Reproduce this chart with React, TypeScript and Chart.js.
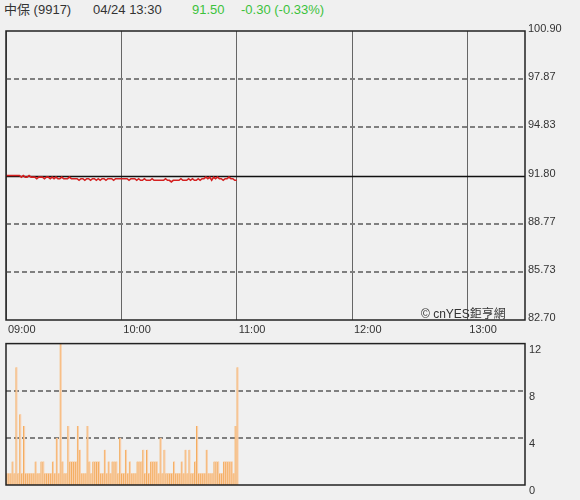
import React, { useEffect, useRef } from "react";
import { Chart, registerables } from "chart.js";

Chart.register(...registerables);

const stockTitle = "中保 (9917)";
const timeText = "04/24 13:30";
const lastPriceText = "91.50";
const changeText = "-0.30 (-0.33%)";
const watermark = "© cnYES鉅亨網";

const priceTicks = [82.7, 85.73, 88.77, 91.8, 94.83, 97.87, 100.9];
const prevClose = 91.8;
const timeTicks = [0, 60, 120, 180, 240];
const timeMax = 270;
const volumeTicks = [0, 4, 8, 12];

const prices = [
  91.8, 91.8, 91.8, 91.8, 91.8, 91.8, 91.8, 91.8, 91.7, 91.8,
  91.7, 91.7, 91.8, 91.7, 91.7, 91.7, 91.6, 91.7, 91.7, 91.7,
  91.6, 91.7, 91.7, 91.6, 91.7, 91.6, 91.7, 91.6, 91.6, 91.7,
  91.6, 91.6, 91.6, 91.7, 91.6, 91.6, 91.6, 91.6, 91.5, 91.6,
  91.6, 91.5, 91.6, 91.6, 91.5, 91.6, 91.6, 91.5, 91.6, 91.5,
  91.6, 91.6, 91.5, 91.6, 91.6, 91.6, 91.5, 91.6, 91.6, 91.6,
  91.6, 91.6, 91.6, 91.6, 91.5, 91.6, 91.6, 91.6, 91.5, 91.6,
  91.5, 91.5, 91.6, 91.5, 91.5, 91.5, 91.6, 91.5, 91.5, 91.5,
  91.5, 91.5, 91.5, 91.6, 91.5, 91.5, 91.4, 91.5, 91.5, 91.5,
  91.5, 91.6, 91.5, 91.5, 91.5, 91.6, 91.5, 91.6, 91.5, 91.5,
  91.6, 91.5, 91.6, 91.6, 91.7, 91.6, 91.7, 91.5, 91.7, 91.6,
  91.7, 91.6, 91.6, 91.5, 91.6, 91.6, 91.7, 91.6, 91.6, 91.5,
  91.5,
];

const volumes = [
  1, 1, 1, 2, 1, 10, 1, 6, 1, 5,
  1, 1, 1, 1, 1, 2, 1, 1, 2, 2,
  1, 1, 1, 1, 2, 1, 4, 1, 12, 2,
  1, 1, 5, 2, 2, 2, 2, 5, 3, 1,
  1, 1, 5, 2, 1, 2, 2, 2, 2, 1,
  1, 3, 1, 2, 1, 2, 2, 2, 1, 4,
  1, 1, 3, 1, 2, 1, 1, 1, 2, 2,
  2, 3, 1, 3, 1, 2, 2, 2, 2, 1,
  4, 1, 3, 1, 1, 1, 1, 2, 1, 1,
  1, 2, 1, 3, 1, 3, 1, 1, 2, 5,
  1, 1, 1, 1, 3, 1, 1, 1, 2, 2,
  2, 1, 1, 2, 2, 2, 2, 2, 1, 5,
  10,
];

const FONT = "'Liberation Sans', Arial, 'Noto Sans CJK TC', sans-serif";

const fmtTime = (m: number) => {
  const h = 9 + Math.floor(m / 60);
  const mm = m % 60;
  return String(h).padStart(2, "0") + ":" + String(mm).padStart(2, "0");
};

function gridFramePlugin(solidValue: number | null, dashedValues: number[]) {
  return {
    id: "gridFrame",
    beforeDatasetsDraw(chart: any) {
      const { ctx, chartArea, scales } = chart;
      const y = scales.y;
      ctx.save();
      dashedValues.forEach((v) => {
        const py = Math.round(y.getPixelForValue(v));
        ctx.beginPath();
        ctx.setLineDash([5, 3]);
        ctx.strokeStyle = "#7f7f7f";
        ctx.lineWidth = 2;
        ctx.moveTo(chartArea.left, py);
        ctx.lineTo(chartArea.right, py);
        ctx.stroke();
      });
      if (solidValue !== null) {
        const py = Math.round(y.getPixelForValue(solidValue)) + 0.5;
        ctx.beginPath();
        ctx.setLineDash([]);
        ctx.strokeStyle = "#111";
        ctx.lineWidth = 1.5;
        ctx.moveTo(chartArea.left, py);
        ctx.lineTo(chartArea.right, py);
        ctx.stroke();
      }
      ctx.restore();
    },
    afterDatasetsDraw(chart: any) {
      const { ctx, chartArea } = chart;
      ctx.save();
      ctx.setLineDash([]);
      ctx.strokeStyle = "#222";
      ctx.lineWidth = 1.5;
      ctx.strokeRect(
        chartArea.left,
        chartArea.top,
        chartArea.right - chartArea.left,
        chartArea.bottom - chartArea.top
      );
      ctx.restore();
    },
  };
}

export default function App() {
  const priceRef = useRef<HTMLCanvasElement | null>(null);
  const volRef = useRef<HTMLCanvasElement | null>(null);

  useEffect(() => {
    const priceData = prices.map((p, i) => ({ x: i, y: p }));
    const volData = volumes.map((v, i) => ({ x: i, y: v }));

    const priceChart = new Chart(priceRef.current as HTMLCanvasElement, {
      type: "line",
      data: {
        datasets: [
          {
            data: priceData,
            borderColor: "#d42020",
            borderWidth: 1.6,
            pointRadius: 0,
            tension: 0,
          },
        ],
      },
      options: {
        animation: false,
        responsive: false,
        layout: { padding: { left: 6, top: 11, right: 0, bottom: 0 } },
        plugins: { legend: { display: false }, tooltip: { enabled: false } },
        scales: {
          x: {
            type: "linear",
            min: 0,
            max: timeMax,
            afterBuildTicks: (s: any) => {
              s.ticks = timeTicks.map((v) => ({ value: v }));
            },
            afterFit: (s: any) => {
              s.height = 25;
            },
            ticks: {
              callback: (v: any) => fmtTime(Number(v)),
              align: "start",
              labelOffset: 2,
              padding: 3,
              autoSkip: false,
              maxRotation: 0,
              color: "#333",
              font: { family: FONT, size: 11 },
            },
            grid: { color: "#666", lineWidth: 1, drawTicks: false },
            border: { display: false },
          },
          y: {
            type: "linear",
            position: "right",
            min: priceTicks[0],
            max: priceTicks[priceTicks.length - 1],
            afterBuildTicks: (s: any) => {
              s.ticks = priceTicks.map((v) => ({ value: v }));
            },
            afterFit: (s: any) => {
              s.width = 55;
            },
            ticks: {
              callback: (v: any) => Number(v).toFixed(2),
              padding: 3,
              labelOffset: -2,
              color: "#333",
              font: { family: FONT, size: 11 },
            },
            grid: { display: false, drawTicks: false },
            border: { display: false },
          },
        },
      },
      plugins: [
        gridFramePlugin(
          prevClose,
          priceTicks.filter((v, i) => v !== prevClose && i > 0 && i < priceTicks.length - 1)
        ),
      ],
    } as any);

    const volChart = new Chart(volRef.current as HTMLCanvasElement, {
      type: "bar",
      data: {
        datasets: [
          {
            data: volData,
            backgroundColor: "#f9cfab",
            borderColor: "#f3ac5c",
            borderWidth: { left: 1, right: 0, top: 0, bottom: 0 },
            borderSkipped: false,
            categoryPercentage: 1,
            barPercentage: 1,
          },
        ],
      },
      options: {
        animation: false,
        responsive: false,
        layout: { padding: { left: 6, top: 10, right: 0, bottom: 15 } },
        plugins: { legend: { display: false }, tooltip: { enabled: false } },
        scales: {
          x: {
            type: "linear",
            min: -0.5,
            max: timeMax - 0.5,
            display: false,
            offset: false,
          },
          y: {
            type: "linear",
            position: "right",
            min: 0,
            max: 12,
            afterBuildTicks: (s: any) => {
              s.ticks = volumeTicks.map((v) => ({ value: v }));
            },
            afterFit: (s: any) => {
              s.width = 55;
            },
            ticks: {
              padding: 4,
              labelOffset: 6,
              color: "#333",
              font: { family: FONT, size: 11 },
            },
            grid: { display: false, drawTicks: false },
            border: { display: false },
          },
        },
      },
      plugins: [gridFramePlugin(null, [4, 8])],
    } as any);

    return () => {
      priceChart.destroy();
      volChart.destroy();
    };
  }, []);

  const txt: React.CSSProperties = {
    position: "absolute",
    top: 1,
    fontFamily: FONT,
    fontSize: 13,
    lineHeight: "18px",
    whiteSpace: "nowrap",
  };

  return (
    <div
      style={{
        position: "fixed",
        left: 0,
        top: 0,
        width: 580,
        height: 500,
        background: "#f0f0f0",
        overflow: "hidden",
      }}
    >
      <span style={{ ...txt, left: 4, color: "#333" }}>{stockTitle}</span>
      <span style={{ ...txt, left: 93, color: "#333" }}>{timeText}</span>
      <span style={{ ...txt, left: 192, color: "#3cc23c" }}>{lastPriceText}</span>
      <span style={{ ...txt, left: 241, color: "#3cc23c" }}>{changeText}</span>
      <canvas
        ref={priceRef}
        width={580}
        height={325}
        style={{ position: "absolute", left: 0, top: 20, width: 580, height: 325 }}
      />
      <canvas
        ref={volRef}
        width={580}
        height={167}
        style={{ position: "absolute", left: 0, top: 333, width: 580, height: 167 }}
      />
      <span
        style={{
          position: "absolute",
          left: 421,
          top: 306,
          fontFamily: FONT,
          fontSize: 12,
          lineHeight: "16px",
          color: "#333",
          whiteSpace: "nowrap",
        }}
      >
        {watermark}
      </span>
    </div>
  );
}
